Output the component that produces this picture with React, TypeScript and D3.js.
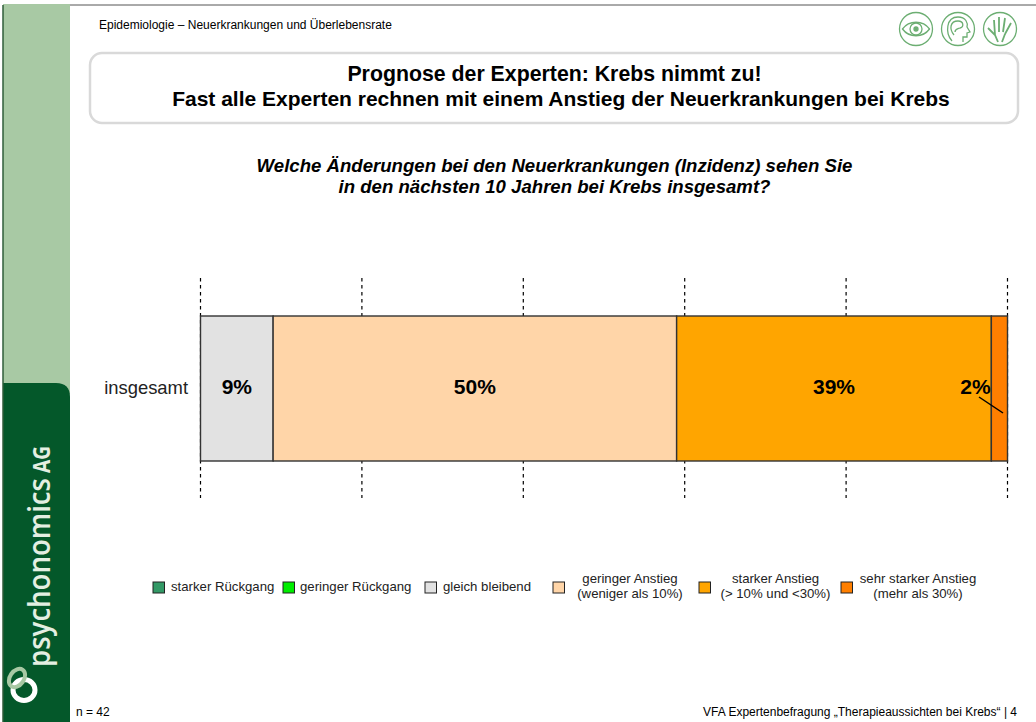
import React, { useEffect } from 'react';
import * as d3 from 'd3';

const width = 1036;
const height = 722;

const categoryLabel = 'insgesamt';
const seriesNames = ['gleich bleibend', 'geringer Anstieg', 'starker Anstieg', 'sehr starker Anstieg'];
const seriesValues = [9, 50, 39, 2];
const seriesColors = ['#e2e2e2', '#ffd5a8', '#ffa500', '#ff7f00'];
const gridTicks = [0, 20, 40, 60, 80, 100];

const legendLabels = [
    ['starker Rückgang'],
    ['geringer Rückgang'],
    ['gleich bleibend'],
    ['geringer Anstieg', '(weniger als 10%)'],
    ['starker Anstieg', '(> 10% und <30%)'],
    ['sehr starker Anstieg', '(mehr als 30%)'],
];
const legendColors = ['#339966', '#00ee00', '#e2e2e2', '#ffd5a8', '#ffa500', '#ff7f00'];
const legendBoxX = [153, 283, 425, 553, 699, 841];
const legendTextX = [171, 300, 443, 630, 775.5, 918];

const font = 'Liberation Sans, Arial, sans-serif';

const x = d3.scaleLinear().domain([0, 100]).range([200.5, 1007.5]);

export default function App() {
    useEffect(() => {
        document.body.style.margin = '0';
    }, []);

    const stack = d3.stack<number[]>().keys(seriesNames.map((_, i) => String(i)))([
        seriesValues as any,
    ]);

    return (
        <svg
            width={width}
            height={height}
            viewBox={`0 0 ${width} ${height}`}
            style={{ position: 'absolute', left: 0, top: 0, background: '#fff' }}
            fontFamily={font}
        >
            {/* page frame and side band */}
            <line x1={3} x2={width} y1={5} y2={5} stroke="#555" strokeWidth={1} />
            <rect x={3} y={4} width={67} height={390} fill="#a8c9a4" />
            <path d="M3,383 H56 Q70,383 70,397 V722 H3 Z" fill="#04582a" />
            <line x1={3} x2={3} y1={5} y2={722} stroke="#2f5d3a" strokeWidth={1.5} />

            {/* logo */}
            <g fontFamily="Open Sans, sans-serif" fill="#e4efe2">
                <text
                    transform="translate(50,667) rotate(-90)"
                    fontSize={31}
                    fontWeight={600}
                    textLength={189}
                    lengthAdjust="spacingAndGlyphs"
                >
                    psychonomics
                </text>
                <text
                    transform="translate(50,473) rotate(-90)"
                    fontSize={24}
                    fontWeight={700}
                    textLength={27}
                    lengthAdjust="spacingAndGlyphs"
                >
                    AG
                </text>
            </g>
            <ellipse cx={24} cy={690} rx={11} ry={10.5} fill="none" stroke="#fff" strokeWidth={5} />
            <ellipse
                cx={17}
                cy={678}
                rx={7}
                ry={10}
                transform="rotate(35 17 678)"
                fill="none"
                stroke="#a8c9a4"
                strokeWidth={4}
            />

            {/* header */}
            <text x={99} y={29} fontSize={12}>Epidemiologie – Neuerkrankungen und Überlebensrate</text>
            <g fill="none" stroke="#6cae72" strokeWidth={1.3}>
                <g transform="translate(916,29)">
                    <circle r={16.5} />
                    <path d="M-13.5,0 C-7,-9 7,-9 13.5,0 C7,9 -7,9 -13.5,0 Z" />
                    <circle r={6} />
                    <circle r={2} fill="#6cae72" />
                </g>
                <g transform="translate(958,29)">
                    <circle r={16.5} />
                    <path d="M-6,12 C-13,4 -12,-12 0,-12 C8,-12 10,-6 9,-2 L12,3 L9,4 L9,8 L5,8 L5,13" />
                    <path d="M-4,6 C-9,0 -8,-8 0,-8 C6,-8 6,-2 2,-1 C-1,0 -3,0 -3,3" />
                </g>
                <g transform="translate(1000,29)">
                    <circle r={16.5} />
                    <path d="M-2,13 L-5,6 L-12,-1 M-5,6 L-6,-9 M-1,3 L-1,-12 M3,3 L5,-11 M5,5 L11,-6 M5,5 L2,13" strokeWidth={1.8} />
                </g>
            </g>

            {/* title box */}
            <rect x={90} y={53} width={928} height={70} rx={12} ry={12} fill="#fff" stroke="#d9d9d9" strokeWidth={2.5} />
            <text textAnchor="middle" fontWeight={700} fontSize={21}>
                <tspan x={554.5} y={81} fontSize={21.3}>Prognose der Experten: Krebs nimmt zu!</tspan>
                <tspan x={561} y={106}>Fast alle Experten rechnen mit einem Anstieg der Neuerkrankungen bei Krebs</tspan>
            </text>

            {/* question */}
            <text textAnchor="middle" fontWeight={700} fontStyle="italic" fontSize={18.6}>
                <tspan x={554.5} y={172}>Welche Änderungen bei den Neuerkrankungen (Inzidenz) sehen Sie</tspan>
                <tspan x={554.5} y={192.5}>in den nächsten 10 Jahren bei Krebs insgesamt?</tspan>
            </text>

            {/* grid */}
            {gridTicks.map((t) => (
                <line
                    key={t}
                    x1={x(t)}
                    x2={x(t)}
                    y1={278}
                    y2={498}
                    stroke="#000"
                    strokeWidth={1.2}
                    strokeDasharray="3.5 3.5"
                />
            ))}

            {/* bar */}
            <text x={188} y={394} textAnchor="end" fontSize={18.4} fill="#222">{categoryLabel}</text>
            {stack.map((s, i) => {
                const [a, b] = s[0];
                return (
                    <rect
                        key={i}
                        x={x(a)}
                        y={316}
                        width={x(b) - x(a)}
                        height={145}
                        fill={seriesColors[i]}
                        stroke="#333"
                        strokeWidth={1.4}
                    />
                );
            })}
            {stack.map((s, i) => {
                const [a, b] = s[0];
                const isSmall = seriesValues[i] < 5;
                return (
                    <text
                        key={i}
                        x={isSmall ? 975.5 : x((a + b) / 2)}
                        y={394}
                        textAnchor="middle"
                        fontWeight={700}
                        fontSize={21}
                    >
                        {seriesValues[i]}%
                    </text>
                );
            })}
            <line x1={979} y1={397} x2={1003} y2={413} stroke="#000" strokeWidth={1.5} />

            {/* legend */}
            {legendLabels.map((lines, i) => (
                <g key={i}>
                    <rect
                        x={legendBoxX[i]}
                        y={582}
                        width={11.5}
                        height={11}
                        fill={legendColors[i]}
                        stroke="#222"
                        strokeWidth={1}
                    />
                    <text
                        fontSize={13.2}
                        fill="#222"
                        textAnchor={lines.length > 1 ? 'middle' : 'start'}
                    >
                        {lines.map((l, j) => (
                            <tspan
                                key={j}
                                x={legendTextX[i]}
                                y={lines.length > 1 ? 583 + j * 15 : 591}
                            >
                                {l}
                            </tspan>
                        ))}
                    </text>
                </g>
            ))}

            {/* footer */}
            <text x={76} y={716} fontSize={12}>n = 42</text>
            <text x={1017} y={716} fontSize={12} textAnchor="end">
                VFA Expertenbefragung „Therapieaussichten bei Krebs“ | 4
            </text>
        </svg>
    );
}
